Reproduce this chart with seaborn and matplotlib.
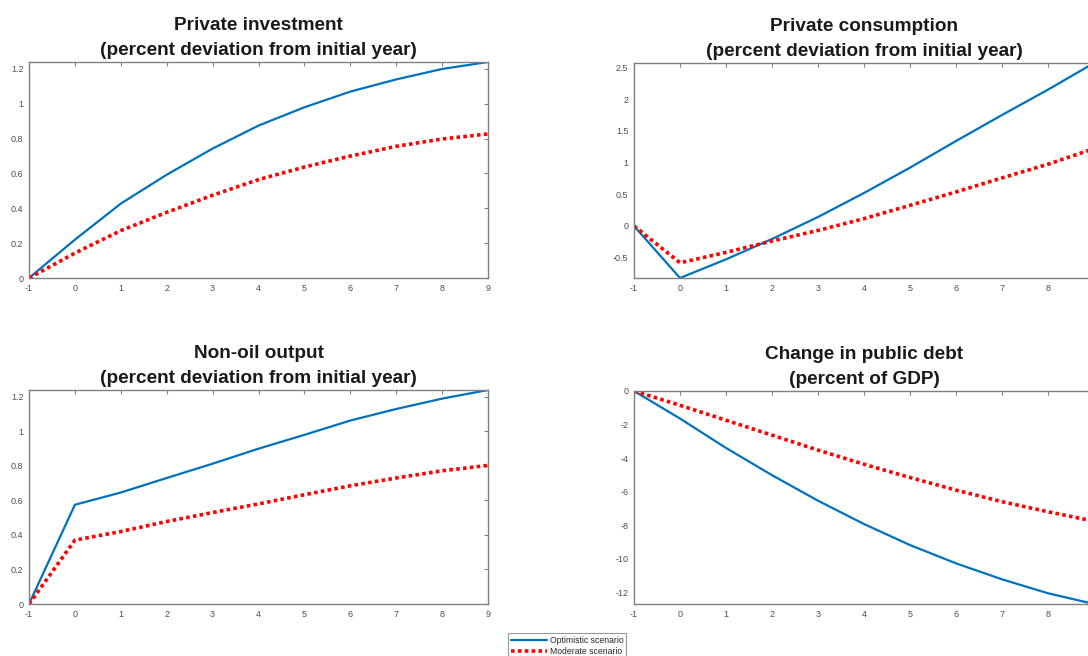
import matplotlib
matplotlib.use("Agg")
import matplotlib.pyplot as plt
import seaborn as sns
import pandas as pd
from matplotlib.ticker import MultipleLocator, FormatStrFormatter, FixedLocator

# Years relative to the initial year
years = [-1, 0, 1, 2, 3, 4, 5, 6, 7, 8, 9]

# Private investment (percent deviation from initial year)
invest_opt = [0.0, 0.22, 0.427, 0.593, 0.743, 0.875, 0.98, 1.07, 1.14, 1.20, 1.24]
invest_mod = [0.0, 0.143, 0.272, 0.377, 0.475, 0.565, 0.637, 0.70, 0.756, 0.798, 0.827]

# Private consumption (percent deviation from initial year)
cons_opt = [0.0, -0.82, -0.526, -0.205, 0.142, 0.52, 0.92, 1.34, 1.75, 2.15, 2.57]
cons_mod = [0.0, -0.58, -0.416, -0.237, -0.07, 0.116, 0.326, 0.537, 0.758, 0.974, 1.22]

# Non-oil output (percent deviation from initial year)
output_opt = [0.0, 0.575, 0.646, 0.73, 0.813, 0.90, 0.98, 1.063, 1.13, 1.19, 1.24]
output_mod = [0.0, 0.37, 0.42, 0.478, 0.53, 0.58, 0.633, 0.685, 0.73, 0.772, 0.803]

# Change in public debt (percent of GDP)
debt_opt = [0.0, -1.64, -3.39, -5.01, -6.53, -7.92, -9.17, -10.26, -11.21, -12.04, -12.68]
debt_mod = [0.0, -0.85, -1.74, -2.63, -3.52, -4.36, -5.15, -5.90, -6.59, -7.19, -7.75]

titles = [
    "Private investment\n(percent deviation from initial year)",
    "Private consumption\n(percent deviation from initial year)",
    "Non-oil output\n(percent deviation from initial year)",
    "Change in public debt\n(percent of GDP)",
]
scenario_labels = ["Optimistic scenario", "Moderate scenario"]

sns.set_theme(style="white")
plt.rcParams["font.family"] = ["Liberation Sans", "DejaVu Sans"]
plt.rcParams["axes.unicode_minus"] = False

fig = plt.figure(figsize=(10.88, 6.56), dpi=100)
W, H = 1088.0, 656.0

def axes_box(left, top, right, bottom):
    return [left / W, 1 - bottom / H, (right - left) / W, (bottom - top) / H]

boxes = [
    axes_box(29, 62, 488, 278),
    axes_box(634, 63, 1094, 278),
    axes_box(29, 390, 488, 604),
    axes_box(634, 391, 1094, 604),
]
panels = [
    (invest_opt, invest_mod, 0.2),
    (cons_opt, cons_mod, 0.5),
    (output_opt, output_mod, 0.2),
    (debt_opt, debt_mod, 2),
]

blue = "#0072BD"
red = "#FF0000"
edge = "#808080"

handles = None
for i, (box, title, (opt, mod, ystep)) in enumerate(zip(boxes, titles, panels)):
    ax = fig.add_axes(box)
    df = pd.DataFrame({"year": years, "opt": opt, "mod": mod})
    sns.lineplot(data=df, x="year", y="opt", ax=ax, color=blue, linewidth=1.6,
                 label=scenario_labels[0])
    sns.lineplot(data=df, x="year", y="mod", ax=ax, color=red, linewidth=2.6,
                 label=scenario_labels[1])
    ax.lines[1].set_dashes((1.0, 0.9))
    ax.lines[1].set_dash_capstyle("butt")
    handles, labels = ax.get_legend_handles_labels()
    ax.get_legend().remove()

    lo = min(min(opt), min(mod))
    hi = max(max(opt), max(mod))
    ax.set_xlim(-1, 9)
    ax.set_ylim(lo, hi)
    ax.set_xlabel("")
    ax.set_ylabel("")
    # the right-hand panels run past the figure edge, so their last year tick falls outside
    xt = years if i % 2 == 0 else years[:-1]
    ax.xaxis.set_major_locator(FixedLocator(xt))
    ax.yaxis.set_major_locator(MultipleLocator(ystep))
    ax.yaxis.set_major_formatter(FormatStrFormatter("%g"))
    ax.tick_params(direction="in", length=3, width=0.8, color=edge,
                   top=True, right=True, labelsize=6.5, labelcolor="#4d4d4d", pad=4)
    for sp in ax.spines.values():
        sp.set_color(edge)
        sp.set_linewidth(1.0)
    ax.set_title(title, fontsize=13.7, fontweight="bold", pad=5, linespacing=1.62,
                 color="#1a1a1a")

leg = fig.legend(handles, scenario_labels, loc="upper center",
                 bbox_to_anchor=(567 / W, 1 - 629 / H), fontsize=6.2,
                 frameon=True, fancybox=False, edgecolor="#808080",
                 handlelength=4.2, handletextpad=0.3, borderpad=0.3,
                 labelspacing=0.25)
leg.get_frame().set_linewidth(0.8)

fig.savefig("out.png", dpi=100)
